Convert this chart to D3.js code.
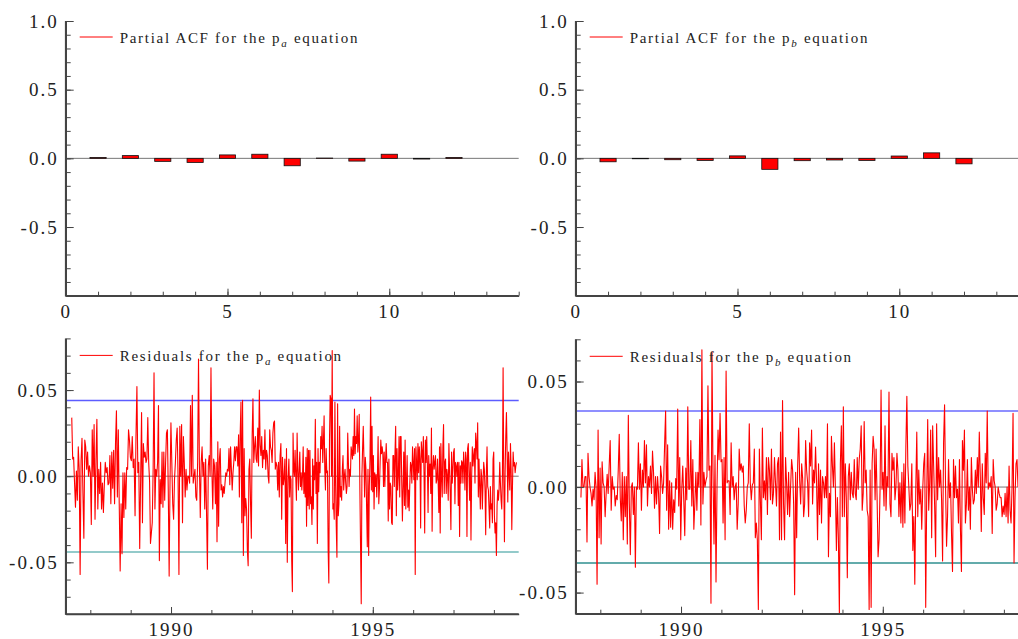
<!DOCTYPE html>
<html>
<head>
<meta charset="utf-8">
<script src="https://cdn.jsdelivr.net/npm/d3@7"></script>
<style>
  body { margin: 0; background: #fff; }
  text { font-family: "Liberation Serif", "Times New Roman", serif; fill: #222; }
  .axis path, .axis line { stroke: #444; }
  .axis path { stroke-width: 1.6; }
</style>
</head>
<body>
<div id="chart"></div>
<script>
////////////////// Data ////////////////////
var lags = [1, 2, 3, 4, 5, 6, 7, 8, 9, 10, 11, 12];
var pacfA = [0.006, 0.02, -0.022, -0.03, 0.025, 0.03, -0.054, 0.002, -0.02, 0.03, -0.005, 0.006];
var pacfB = [-0.025, -0.003, -0.01, -0.015, 0.018, -0.08, -0.017, -0.012, -0.015, 0.017, 0.04, -0.04];

// residuals for the p_a equation, read in six consecutive date blocks
var edgesA = [1987.54, 1989.27, 1991.10, 1992.94, 1994.78, 1996.62, 1998.56];
var residA1 = [.034,.010,.011,-.004,-.018,.003,-.014,.017,.004,-.057,.009,.022,-.010,-.036,.021,.017,.004,.014,0,.006,.002,-.028,.027,0,.030,-.025,.009,.033,-.019,.004,-.010,.008,-.019,-.004,-.021,-.005,.008,.002,.005,-.005,-.004,.012,-.016,.014,-.007,.015,-.016,.019,.038,-.012,.027,-.016,-.055,-.016,-.045,.002,-.024,.002,-.019,.005,.004,.027,.021,.011,.009,.023,.005,.010,-.023,.023,.052,.002,.008,-.042,-.002];
var residA2 = [.037,-.027,.019,.011,.014,.008,.010,.034,.008,-.003,-.039,-.033,-.027,.004,.060,-.019,.004,0,.008,.041,-.049,-.002,-.016,.014,-.018,.014,-.014,.008,.025,.027,-.008,-.058,-.002,.031,.008,-.016,-.025,-.002,.008,.021,.028,0,-.057,.029,0,.030,-.027,.023,.008,-.012,.004,-.008,0,0,-.004,.041,0,.047,-.004,0,.004,-.012,-.014,.008,.068,.006,-.024,.008,.017,0,.008,-.019,.010,-.021,-.054,.006,.012,0,.063,.004,-.019,.010,.006];
var residA3 = [-.016,.008,-.038,.020,-.029,.010,.016,-.008,-.005,-.012,-.006,-.010,-.004,.002,0,.004,.003,.016,-.005,.017,.004,-.008,.002,.008,.017,.009,.017,.017,.006,.024,-.012,.024,.043,-.027,.044,-.046,.016,-.023,-.013,-.019,-.043,-.052,.004,.010,-.016,-.036,.023,.045,.008,.017,.023,.010,.008,.028,.006,.050,.018,.012,.023,.005,.015,.010,.027,.004,.015,.012,0,-.004,.027,.017,.015,.008,.025,.031,.032,.004,.008,.006,-.008,.008,-.012,.012,.019,-.025,.011,-.005,-.001,.010,-.039,.016,-.050,-.002,.010];
var residA4 = [-.012,0,-.002,-.049,-.067,.025,.004,0,.015,0,-.014,.025,.004,-.008,.003,.014,-.006,.002,-.008,0,.017,-.010,.002,-.012,.011,-.029,.016,-.017,.015,-.019,.015,-.016,-.012,-.028,.010,-.019,.006,-.002,.033,-.010,.008,-.039,.016,-.009,.008,.002,.023,.016,.029,.008,.020,.035,.004,-.008,.016,.002,.003,-.043,-.062,.021,.047,.045,0,.073,-.019,-.016,-.025,.043,-.004,-.029,-.047,.042,-.023,-.016,.029,-.012,-.006,-.014,.004,.012,-.008,0,.004,-.004,-.010,-.006,.025,.008,-.006,.004,0,.017,.014,.010,.023,.012,.039,.013,.023,.019,.035,.014,.021,.036,-.008,-.041,-.074,0,.016,.029];
var residA5 = [.010,-.012,.011,.004,-.019,-.041,.004,-.046,-.006,.010,.046,-.008,.029,-.009,.012,-.019,.002,-.006,.001,-.012,.001,.023,-.016,-.007,.008,.021,.013,.017,.013,-.006,.014,-.006,.009,.019,.008,.008,-.026,.010,-.019,-.004,-.006,-.027,-.028,.012,.012,-.006,.013,.029,-.023,.016,-.008,0,.023,-.012,.023,.023,-.004,-.026,-.006,.014,-.017,.021,-.019,-.004,.012,-.018,-.008,-.020,-.004,.008,.006,-.004,.017,.008,-.002,.016,-.057,.017,.008,-.002,.019,.002,.017,.010,-.030,.020,.014,.008,.023,.002,-.033,.021,.008,.023,.007,-.021,.012,0,.007,-.010,.028,-.032,.005,.012,.004,.008,.012,-.004,-.002,.010];
var residA6 = [-.004,-.021,.017,-.033,.019,0,-.012,.017,.030,-.010,.008,.010,-.010,.004,0,-.014,.019,.004,-.010,-.031,.014,-.004,.004,.014,.016,-.016,.008,.006,0,.008,-.017,.008,-.035,.006,-.004,.009,.008,-.004,.014,.006,-.008,.014,.010,-.035,.016,.019,.002,-.014,.008,-.037,0,.017,.006,.012,.016,-.004,.025,.019,.010,.031,-.012,.010,-.006,-.019,.004,0,-.019,-.004,.008,.004,-.008,-.034,.002,.017,-.006,-.008,-.019,-.030,-.006,-.019,-.016,-.027,.010,.014,-.023,-.033,-.027,-.046,-.017,-.008,-.014,-.008,.008,-.004,-.014,-.019,0,.063,0,-.038,.002,.023,.037,.014,-.015,.014,.002,-.008,.019,.004,-.031,-.006,.014,.006,.008,.002,.006,.008];

// residuals for the p_b equation (panel is cut at the right edge of the page)
var edgesB = [1987.52, 1992.94, 1998.35];
var residB1 = [-.005,.013,0,0,.005,.005,-.026,.016,.005,0,-.003,-.009,-.001,-.006,.007,0,-.046,.027,-.024,.009,-.027,.012,.002,0,-.014,-.003,.006,-.003,.010,.022,-.011,.005,-.001,0,-.009,-.004,-.006,.008,.025,-.005,-.016,.007,-.025,.005,-.014,.005,-.027,.034,-.008,-.032,0,.002,-.013,0,-.038,0,-.001,.021,-.001,.011,-.011,.008,0,.022,.002,.020,-.009,.005,0,.010,-.003,.017,.007,-.010,.005,-.008,.005,-.003,-.022,.010,.005,-.003,.002,.020,.036,-.011,.020,-.020,.003,-.019,.002,-.020,-.006,-.012,.004,-.001,.037,-.009,.014,-.025,-.001,.010,-.006,-.023,.009,-.006,.038,-.001,-.001,.022,-.009,.013,-.020,-.008,.007,-.011,.007,0,.032,-.018,.065,-.008,.007,0,.003,.005,.048,.008,.010,-.055,.064,.008,-.027,.015,-.045,0,.027,.013,.035,.012,.013,-.017,.014,-.025,.055,.002,.003,.003,-.013,.021,0,.005,-.006,0,.002,-.020,-.008,.018,.008,.011,.007,.010,-.009,-.017,-.011,0,.002,.030,.002,-.006,.001,.002,.018,-.024,-.017,-.025,-.058,.018,-.006,-.025,.028,-.005,.003,-.006,.014,-.013,.014,.008,-.006,.018,-.008,-.003,.014,.002,-.009,.011,.014,-.025,.026,-.025,.041,-.008,-.025,.014,.002,-.013,.007,-.014,0,.013,.008,-.008,-.051,.007,-.024,.010,.028];
var residB2 = [.003,-.008,.011,.004,-.014,-.008,.022,.008,.002,-.014,.021,.010,.027,-.008,.008,.002,.019,.003,-.025,.011,-.013,.008,-.017,.005,.002,-.005,.005,-.005,.030,-.033,-.003,-.014,.024,.010,0,.021,-.001,-.030,-.005,-.024,-.060,.011,.029,-.014,.038,-.014,.011,-.005,-.043,.005,.011,-.006,.007,-.003,-.005,.013,-.003,-.006,.014,-.001,.013,.018,.029,-.011,-.003,.031,.002,.008,-.011,-.014,-.058,.008,-.057,.011,.024,.018,-.006,.018,-.005,-.033,-.025,-.001,.046,-.001,.007,-.009,.029,-.011,.005,0,.045,-.008,-.014,.016,.008,.014,-.006,0,.016,.008,-.014,.002,-.017,.007,-.019,.011,-.017,.019,.043,.010,0,-.011,-.008,.011,-.030,-.014,-.046,-.001,.026,-.014,.008,-.008,-.001,-.020,-.001,.011,.016,-.057,-.005,.032,-.011,.002,.027,-.024,.029,.010,-.009,-.033,.030,-.006,.014,0,.008,-.006,-.035,.021,.039,0,-.028,-.014,.013,-.005,.002,-.022,-.040,.013,-.005,.010,-.005,-.001,-.017,.013,-.020,-.040,.022,.008,.027,-.017,-.008,.013,-.011,0,-.020,.014,-.001,-.008,-.006,.008,-.003,.014,0,.026,.005,-.021,.011,-.005,-.013,.016,.002,.036,-.001,.002,0,.005,-.022,.013,.003,0,-.011,-.008,0,-.003,-.005,-.005,-.014,-.009,-.013,-.003,-.014,0,-.017,.010,-.011,-.017,0,.035,-.036,-.005,.011,.013,0];

var bandA = 0.044;   // +/- 2 s.e. lines
var bandB = 0.036;

////////////////// SVG ////////////////////
var svg = d3.select("#chart").append("svg")
  .attr("width", 1018)
  .attr("height", 639);

// turn blocks of values into dated points (equal spacing inside each block)
function toPoints(blocks, edges) {
  var pts = [];
  blocks.forEach(function (b, i) {
    var step = (edges[i + 1] - edges[i]) / (i == blocks.length - 1 ? b.length - 1 : b.length);
    b.forEach(function (v, j) { pts.push({ t: edges[i] + j * step, v: v }); });
  });
  return pts;
}

// plain hyphen for negatives, like the original
function fmt(spec) {
  var f = d3.format(spec);
  return function (d) { return f(d).replace("\u2212", "-"); };
}

function legend(g, x, y, text1, sub, text2) {
  g.append("line").attr("x1", x).attr("x2", x + 33).attr("y1", y).attr("y2", y)
    .attr("stroke", "#ff0000").attr("stroke-width", 1);
  var t = g.append("text").attr("x", x + 40).attr("y", y + 6)
    .style("font-size", "15px").style("letter-spacing", "1.7px");
  t.append("tspan").text(text1);
  t.append("tspan").attr("dy", 4).style("font-size", "11px").style("font-style", "italic").text(sub);
  t.append("tspan").attr("dy", -4).text(text2);
}

function yAxes(g, y, major, minor, f) {
  g.append("g").attr("class", "axis")
    .call(d3.axisLeft(y).tickValues(minor).tickSizeInner(-5).tickSizeOuter(0).tickFormat(""));
  var a = g.append("g").attr("class", "axis")
    .call(d3.axisLeft(y).tickValues(major).tickSizeInner(-8).tickSizeOuter(0).tickPadding(7).tickFormat(f));
  a.selectAll("text").style("font-size", "19px").style("letter-spacing", "2px");
  a.select(".domain").remove();
}

function xAxes(g, x, h, major, minor, f) {
  g.append("g").attr("class", "axis").attr("transform", "translate(0," + h + ")")
    .call(d3.axisBottom(x).tickValues(minor).tickSizeInner(-4).tickSizeOuter(0).tickFormat(""));
  var a = g.append("g").attr("class", "axis").attr("transform", "translate(0," + h + ")")
    .call(d3.axisBottom(x).tickValues(major).tickSizeInner(-7).tickSizeOuter(0).tickPadding(9).tickFormat(f));
  a.selectAll("text").style("font-size", "19px").style("letter-spacing", "2px");
  a.select(".domain").remove();
}

////////////////// Partial ACF panels ////////////////////
function pacfPanel(left, values, sub) {
  var w = 453, top = 21, h = 274.7;
  var g = svg.append("g").attr("transform", "translate(" + left + "," + top + ")");
  var x = d3.scaleLinear().domain([0, 14]).range([0, w]);
  var y = d3.scaleLinear().domain([-1, 1]).range([h, 0]);

  g.append("line").attr("x1", 0).attr("x2", w).attr("y1", y(0)).attr("y2", y(0))
    .attr("stroke", "#777").attr("stroke-width", 1);

  g.selectAll("rect.bar").data(values).enter().append("rect")
    .attr("class", "bar")
    .attr("x", function (d, i) { return x(lags[i] - 0.25); })
    .attr("width", function (d, i) { return x(lags[i] + 0.25) - x(lags[i] - 0.25); })
    .attr("y", function (d) { return y(Math.max(d, 0)); })
    .attr("height", function (d) { return Math.abs(y(d) - y(0)); })
    .attr("fill", "#ff0000").attr("stroke", "#111").attr("stroke-width", 0.8);

  yAxes(g, y, [-0.5, 0, 0.5, 1], d3.range(-10, 11).map(function (k) { return k / 10; }), fmt(".1f"));
  xAxes(g, x, h, [0, 5, 10], d3.range(0, 15), fmt("d"));
  g.append("path").attr("fill", "none").attr("stroke", "#444").attr("stroke-width", 1.6)
    .attr("d", "M0,0V" + h + "H" + w);

  legend(g, 14, 16, "Partial ACF for the p", sub, " equation");
}

pacfPanel(65.7, pacfA, "a");
pacfPanel(575.7, pacfB, "b");

////////////////// Residual panels ////////////////////
function residPanel(left, top, h, pts, band, ydom, major, minor, sub, bandCols) {
  var w = 453;
  var g = svg.append("g").attr("transform", "translate(" + left + "," + top + ")");
  var x = d3.scaleLinear().domain([1987.39, 1998.615]).range([0, w]);
  var y = d3.scaleLinear().domain(ydom).range([h, 0]);

  g.append("line").attr("x1", 0).attr("x2", w).attr("y1", y(0)).attr("y2", y(0))
    .attr("stroke", "#777").attr("stroke-width", 1);
  g.append("line").attr("x1", 0).attr("x2", w).attr("y1", y(band)).attr("y2", y(band))
    .attr("stroke", bandCols[0]).attr("stroke-width", 1.5);
  g.append("line").attr("x1", 0).attr("x2", w).attr("y1", y(-band)).attr("y2", y(-band))
    .attr("stroke", bandCols[1]).attr("stroke-width", 1.5);

  var line = d3.line().x(function (d) { return x(d.t); }).y(function (d) { return y(d.v); });
  g.append("path").datum(pts).attr("d", line)
    .attr("fill", "none").attr("stroke", "#ff0000").attr("stroke-width", 1.1)
    .attr("stroke-linejoin", "round");

  yAxes(g, y, major, minor, fmt(".2f"));
  xAxes(g, x, h, [1990, 1995], d3.range(1988, 1999), fmt("d"));
  g.append("path").attr("fill", "none").attr("stroke", "#444").attr("stroke-width", 1.6)
    .attr("d", "M0,0V" + h + "H" + w);

  legend(g, 14, 17, "Residuals for the p", sub, " equation");
}

residPanel(65.7, 338.4, 275.6, toPoints([residA1, residA2, residA3, residA4, residA5, residA6], edgesA),
  bandA, [-0.08, 0.08], [-0.05, 0, 0.05], d3.range(-8, 9).map(function (k) { return k / 100; }), "a",
  ["#5c5cff", "#6fb8b8"]);
residPanel(575.7, 339.3, 274.4, toPoints([residB1, residB2], edgesB),
  bandB, [-0.06, 0.07], [-0.05, 0, 0.05], d3.range(-6, 8).map(function (k) { return k / 100; }), "b",
  ["#6a6aff", "#2f8f8f"]);
</script>
</body>
</html>
